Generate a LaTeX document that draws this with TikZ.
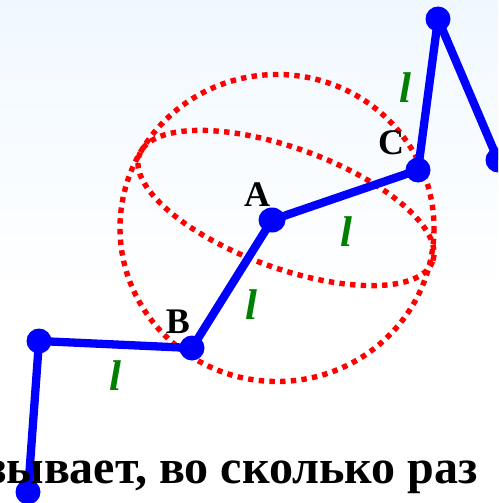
\documentclass[tikz,border=0pt]{standalone}
\usepackage{fontspec}
\setmainfont{Liberation Serif}
\usetikzlibrary{shapes.geometric}
\definecolor{bgtop}{HTML}{F0F8FF}
\definecolor{lgreen}{HTML}{008000}
\tikzset{
  joint/.style={circle,fill=blue,inner sep=0pt,minimum size=25pt},
  jointA/.style={ellipse,fill=blue,inner sep=0pt,minimum width=27pt,minimum height=25pt},
  rod/.style={draw=blue,line width=8.3pt},
  path3/.style={draw=red,line width=5.4pt,dash pattern=on 5.4pt off 5.3pt},
  ptlabel/.style={font=\fontsize{36}{42}\selectfont\bfseries,text=black,inner sep=0pt},
  lenlabel/.style={font=\fontsize{43}{50}\selectfont\bfseries\itshape,text=lgreen,inner sep=0pt},
  caption/.style={font=\fontsize{48}{54}\selectfont\bfseries,text=black,inner sep=0pt,anchor=base east}
}
\begin{document}
\begin{tikzpicture}[x=1pt,y=-1pt]
\useasboundingbox (0,0) rectangle (498,503);
\fill[white] (0,0) rectangle (498,503);
\shade[top color=bgtop,bottom color=white] (0,0) rectangle (498,300);
\begin{scope}
\clip (0,0) rectangle (498,503);
\draw[path3] (277,228) ellipse [x radius=157,y radius=153.5];
\draw[path3] (286,208) ellipse [x radius=156,y radius=60,rotate=-20];
\node[jointA] (A) at (272,220) {};
\node[joint] (B) at (192,348) {};
\node[joint] (C) at (418,170) {};
\node[joint] (T) at (438,19) {};
\node[joint] (R) at (498,160) {};
\node[joint] (L) at (39,341) {};
\node[joint] (D) at (28,492) {};
\draw[rod] (D.center) -- (L.center);
\draw[rod] (L.center) -- (B.center);
\draw[rod] (B.center) -- (A.center);
\draw[rod] (A.center) -- (C.center);
\draw[rod] (C.center) -- (T.center);
\draw[rod] (T.center) -- (R.center);
\node[ptlabel] (la) at (257,195) {A};
\node[ptlabel] (lb) at (178,322) {B};
\node[ptlabel] (lc) at (391,143) {C};
\node[lenlabel] (l1) at (405,88) {l};
\node[lenlabel] (l2) at (346,232) {l};
\node[lenlabel] (l3) at (251,305) {l};
\node[lenlabel] (l4) at (115,376) {l};
\node[caption] (cap) at (478,483) {зывает, во сколько раз};
\end{scope}
\end{tikzpicture}
\end{document}
